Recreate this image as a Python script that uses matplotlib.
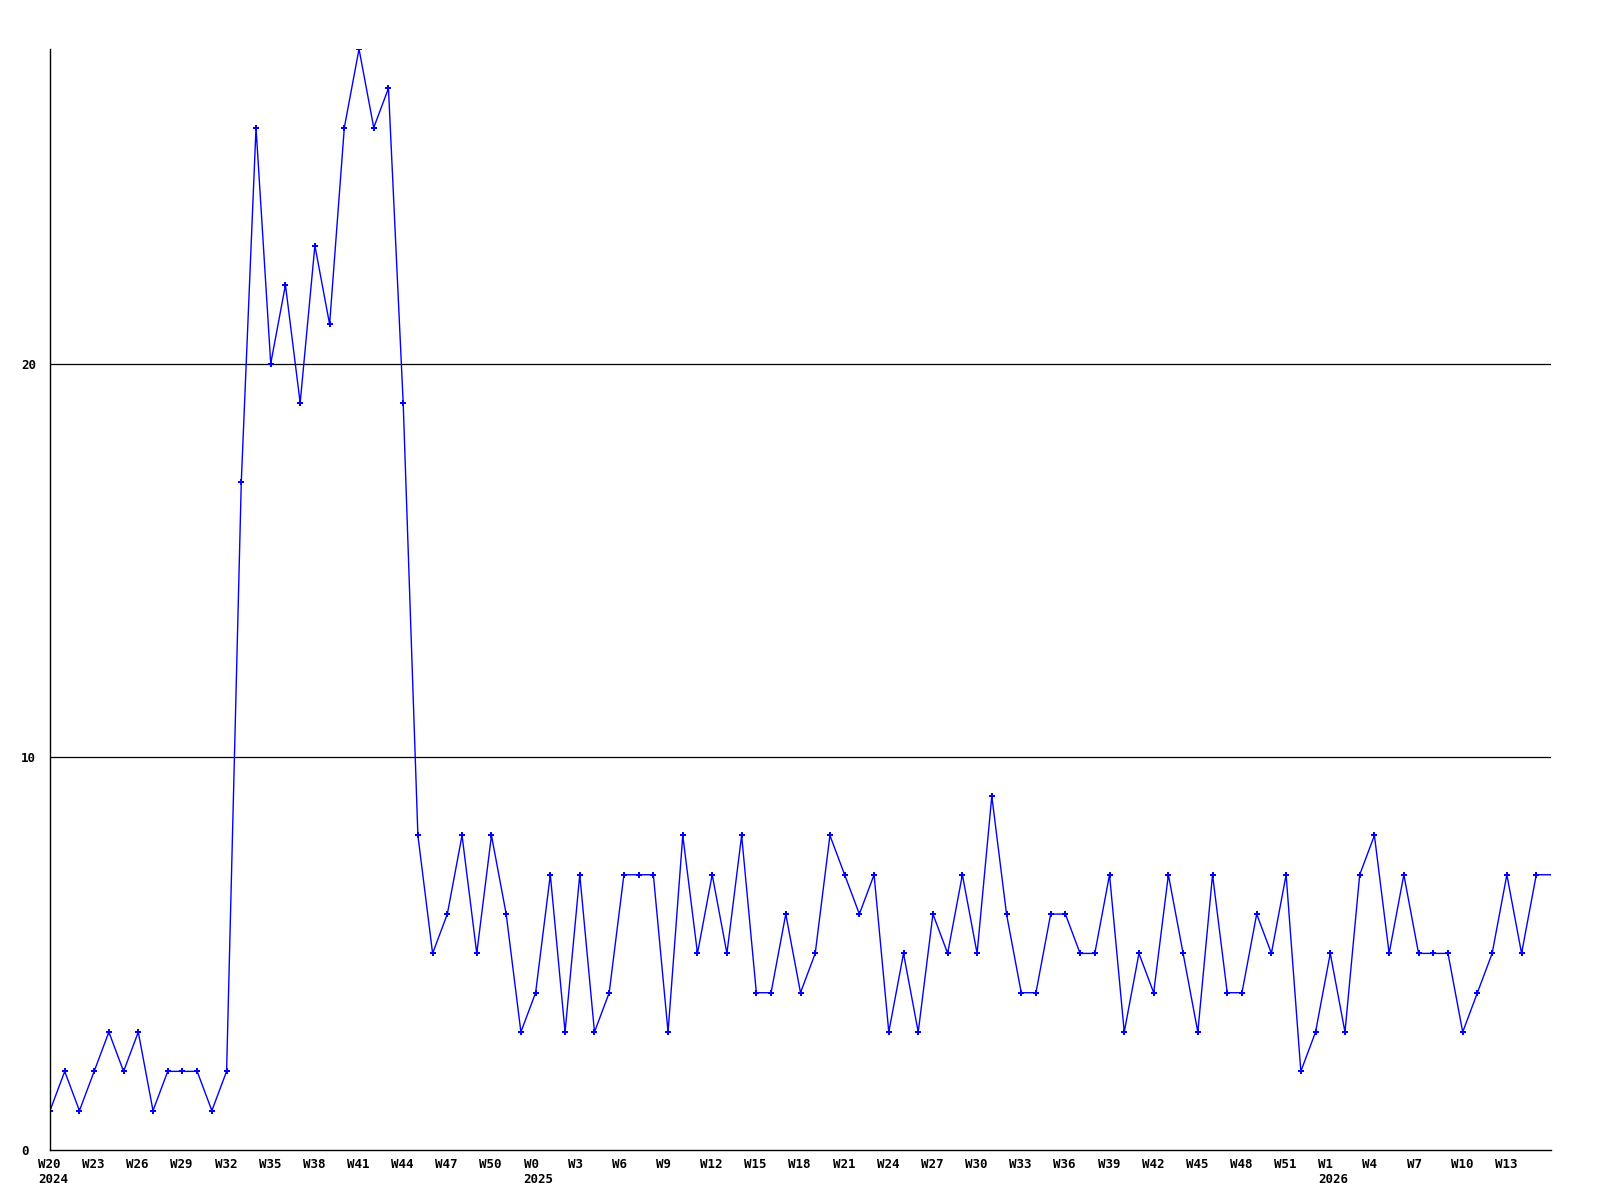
import matplotlib
matplotlib.use("Agg")
import matplotlib.pyplot as plt
import matplotlib.transforms as mtrans

# weekly counts, W20 2024 onwards (last value sits on the right edge)
values = [1, 2, 1, 2, 3, 2, 3, 1, 2, 2, 2, 1, 2, 17, 26, 20, 22, 19, 23, 21,
          26, 28, 26, 27, 19, 8, 5, 6, 8, 5, 8, 6, 3, 4, 7, 3, 7, 3, 4, 7,
          7, 7, 3, 8, 5, 7, 5, 8, 4, 4, 6, 4, 5, 8, 7, 6, 7, 3, 5, 3,
          6, 5, 7, 5, 9, 6, 4, 4, 6, 6, 5, 5, 7, 3, 5, 4, 7, 5, 3, 7,
          4, 4, 6, 5, 7, 2, 3, 5, 3, 7, 8, 5, 7, 5, 5, 5, 3, 4, 5, 7,
          5, 7, 7]

# x labels every 3 weeks
week_labels = ["W20", "W23", "W26", "W29", "W32", "W35", "W38", "W41", "W44",
               "W47", "W50", "W0", "W3", "W6", "W9", "W12", "W15", "W18",
               "W21", "W24", "W27", "W30", "W33", "W36", "W39", "W42", "W45",
               "W48", "W51", "W1", "W4", "W7", "W10", "W13"]
year_labels = {"W20": "2024", "W0": "2025", "W1": "2026"}

y_ticks = [0, 10, 20]

fig = plt.figure(figsize=(16, 12), dpi=100)
ax = fig.add_axes([50 / 1600, 1 - 1150 / 1200, 1501 / 1600, 1101 / 1200])

x = list(range(len(values)))
ax.plot(x, values, color="#0000ff", lw=1.0, marker="P", markersize=4,
        markeredgewidth=0, markevery=slice(0, len(values) - 1))

for v in y_ticks[1:]:
    ax.axhline(v, color="black", lw=0.9, zorder=0)

ax.set_xlim(0, len(values) - 1)
ax.set_ylim(0, 28)

font = dict(family="DejaVu Sans Mono", fontweight="bold", fontsize=9)

ticks = [i * 3 for i in range(len(week_labels))]
tick_text = [lab + ("\n" + year_labels[lab] if lab in year_labels else "")
             for lab in week_labels]
ax.set_xticks(ticks)
ax.set_xticklabels(tick_text, **font, ha="left", va="top", linespacing=1.2)
ax.tick_params(axis="x", length=0, pad=6)
# labels start a little left of their week
offset = mtrans.ScaledTranslation(-12 / 100, 0, fig.dpi_scale_trans)
for lab in ax.get_xticklabels():
    lab.set_transform(lab.get_transform() + offset)

ax.set_yticks(y_ticks)
ax.set_yticklabels([str(v) for v in y_ticks], **font)
ax.tick_params(axis="y", length=0, pad=21)
for lab in ax.get_yticklabels():
    lab.set_horizontalalignment("left")

ax.spines["top"].set_visible(False)
ax.spines["right"].set_visible(False)
ax.spines["left"].set_linewidth(1.0)
ax.spines["bottom"].set_linewidth(1.0)

fig.savefig("out.png", dpi=100)
